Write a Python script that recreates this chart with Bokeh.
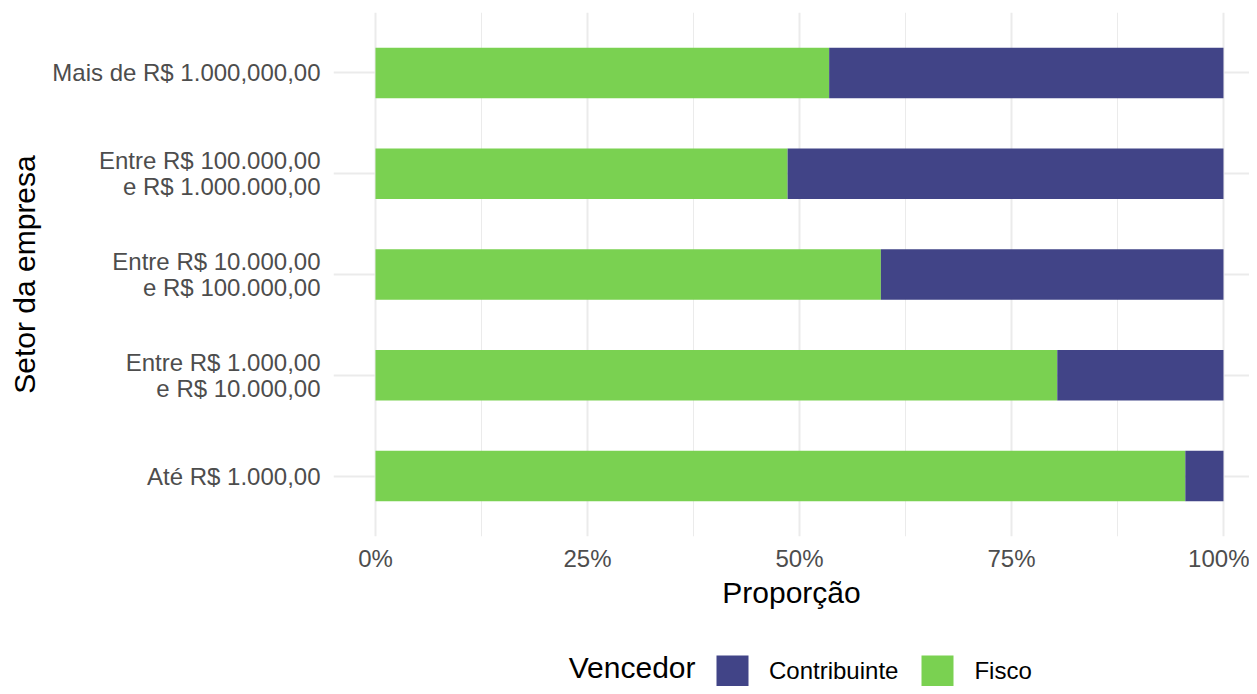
from bokeh.plotting import figure
from bokeh.layouts import column
from bokeh.models import (FactorRange, Range1d, FixedTicker, NumeralTickFormatter,
                          Legend, LegendItem, ColumnDataSource, Label)
from bokeh.embed import file_html
from bokeh.resources import INLINE

categories = [
    "Até R$ 1.000,00",
    "Entre R$ 1.000,00\ne R$ 10.000,00",
    "Entre R$ 10.000,00\ne R$ 100.000,00",
    "Entre R$ 100.000,00\ne R$ 1.000.000,00",
    "Mais de R$ 1.000,000,00",
]
fisco = [0.955, 0.804, 0.596, 0.486, 0.535]
contribuinte = [0.045, 0.196, 0.404, 0.514, 0.465]
series = ["Fisco", "Contribuinte"]
legend_order = ["Contribuinte", "Fisco"]
x_ticks = [0.0, 0.25, 0.5, 0.75, 1.0]
x_minor = [0.125, 0.375, 0.625, 0.875]

FONT = "Liberation Sans"
COLORS = {"Fisco": "#7AD151", "Contribuinte": "#414487"}
GRID = "#EBEBEB"
W = 1249
LEFT = 333

src = ColumnDataSource(dict(cat=categories, Fisco=fisco, Contribuinte=contribuinte))

# ---------------- main chart ----------------
p = figure(
    width=W, height=630,
    y_range=FactorRange(factors=categories, range_padding=0.1, range_padding_units="absolute"),
    x_range=Range1d(-0.0495, 1.0307),
    output_backend="svg", toolbar_location=None,
    min_border_left=LEFT, min_border_right=0, min_border_top=12, min_border_bottom=94,
)
p.outline_line_color = None
p.background_fill_color = "white"

p.hbar_stack(series, y="cat", height=0.5,
             color=[COLORS[s] for s in series], line_color=None, source=src)

p.xgrid.ticker = FixedTicker(ticks=x_ticks, minor_ticks=x_minor)
p.xgrid.grid_line_color = GRID
p.xgrid.grid_line_width = 2
p.xgrid.minor_grid_line_color = GRID
p.xgrid.minor_grid_line_width = 1
p.ygrid.grid_line_color = GRID
p.ygrid.grid_line_width = 2

xa = p.xaxis[0]
xa.ticker = FixedTicker(ticks=x_ticks, minor_ticks=[])
xa.formatter = NumeralTickFormatter(format="0%")
xa.axis_label = "Proporção"
ya = p.yaxis[0]
ya.axis_label = "Setor da empresa"
for ax in (xa, ya):
    ax.axis_line_color = None
    ax.major_tick_line_color = None
    ax.minor_tick_line_color = None
    ax.major_tick_out = 0
    ax.major_tick_in = 0
    ax.major_label_text_font = FONT
    ax.major_label_text_font_size = "24px"
    ax.major_label_text_color = "#4D4D4D"
    ax.axis_label_text_font = FONT
    ax.axis_label_text_font_size = "30px"
    ax.axis_label_text_font_style = "normal"
    ax.axis_label_text_color = "black"
xa.major_label_standoff = 8
xa.axis_label_standoff = 1
ya.major_label_standoff = 13
ya.axis_label_standoff = 8
ya.major_label_text_line_height = 0.95

# ---------------- legend strip ----------------
q = figure(
    width=W, height=56,
    x_range=Range1d(LEFT, W), y_range=Range1d(0, 56),
    output_backend="svg", toolbar_location=None,
    min_border=0, min_border_left=LEFT, min_border_right=0,
)
q.axis.visible = False
q.grid.visible = False
q.outline_line_color = None

# zero-size proxy glyphs that only provide the legend keys
key_renderers = {}
for s in legend_order:
    proxy = ColumnDataSource(dict(y=[0], right=[0]))
    key_renderers[s] = q.hbar(y="y", right="right", left=0, height=0,
                              color=COLORS[s], line_color=None, source=proxy)

legend = Legend(
    items=[LegendItem(label=s, renderers=[key_renderers[s]]) for s in legend_order],
    orientation="horizontal",
    location=(712 - LEFT, -5),
    glyph_width=40, glyph_height=40,
    label_standoff=17, spacing=19,
    padding=0, margin=0,
    border_line_color=None,
    background_fill_alpha=0,
    label_text_font=FONT, label_text_font_size="24px", label_text_color="black",
)
q.add_layout(legend, "center")

q.add_layout(Label(x=695, y=19, text="Vencedor", text_align="right",
                   text_baseline="middle", text_font=FONT, text_font_size="30px",
                   text_color="black"))

layout = column(p, q, spacing=0)
open("out.html", "w").write(file_html(layout, INLINE))
